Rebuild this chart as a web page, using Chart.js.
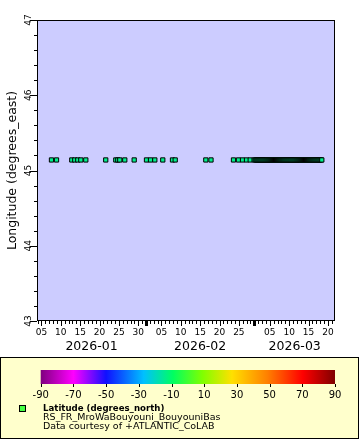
<!DOCTYPE html>
<html>
<head>
<meta charset="utf-8">
<script src="https://cdn.jsdelivr.net/npm/chart.js@4.4.1/dist/chart.umd.min.js"></script>
<style>
  html, body { margin: 0; padding: 0; background: #fff; }
  canvas { display: block; }
</style>
</head>
<body>
<canvas id="chart" width="360" height="440"></canvas>
<script>
// Longitude vs time for one station, markers coloured by latitude

// time of each observation, as day of 2026 (Jan 1 00:00 = 1)
const obsDays = [
  7.58, 8.88,
  12.83, 13.6, 14.38, 15.16, 16.45,
  21.6,
  24.2, 24.72, 25.23, 26.52,
  28.95,
  32.13, 33.17, 34.28,
  36.34,
  38.85, 39.55,
  47.46, 48.8,
  54.61, 55.9, 56.94, 57.97, 58.93, 59.96,
  60.25, 60.5, 60.75, 61, 61.25, 61.5, 61.75, 62, 62.25, 62.5, 62.75, 63,
  63.25, 63.5, 63.75, 64, 64.25, 64.5, 64.75, 65, 65.25, 65.5, 65.75, 66,
  66.25, 66.5, 66.75, 67, 67.25, 67.5, 67.75, 68, 68.25, 68.5, 68.75, 69,
  69.25, 69.5, 69.75, 70, 70.25, 70.5, 70.75, 71, 71.25, 71.5, 71.75, 72,
  72.25, 72.5, 72.75, 73, 73.25, 73.5, 73.75, 74, 74.25, 74.5, 74.75, 75,
  75.25, 75.5, 75.75, 76, 76.25, 76.5, 76.75, 77, 77.25, 77.43
];
const stationLon = 45.14;

const lonTicks    = [43, 44, 45, 46, 47];
const dayTicks    = ['05', '10', '15', '20', '25', '30'];
const monthLabels = ['2026-01', '2026-02', '2026-03'];
const monthStart  = [1, 32, 60, 91];
const colorTicks  = [-90, -70, -50, -30, -10, 10, 30, 50, 70, 90];

const legendTitle = 'Latitude (degrees_north)';
const legendLines = ['RS_FR_MroWaBouyouni_BouyouniBas', 'Data courtesy of +ATLANTIC_CoLAB'];

const FONT = '"DejaVu Sans", sans-serif';

const palette = [
  [0.000, '#7f007f'], [0.111, '#ff00ff'], [0.222, '#1010ff'], [0.350, '#00c0ff'],
  [0.450, '#00ff60'], [0.550, '#80ff00'], [0.650, '#ffe000'], [0.770, '#ff8000'],
  [0.890, '#ff0000'], [1.000, '#800000'],
];

const axesPlugin = {
  id: 'axesPlugin',
  beforeDatasetsDraw(chart) {
    const { ctx, chartArea: a } = chart;
    ctx.save();
    ctx.fillStyle = '#ccccff';
    ctx.fillRect(a.left, a.top, a.right - a.left, a.bottom - a.top);
    ctx.restore();
  },
  afterDatasetsDraw(chart) {
    const { ctx, chartArea: a, scales: { x, y } } = chart;
    ctx.save();
    ctx.strokeStyle = '#000';
    ctx.fillStyle = '#000';
    ctx.lineWidth = 1;

    // frame
    ctx.strokeRect(a.left + 0.5, a.top + 0.5, a.right - a.left - 1, a.bottom - a.top - 1);

    // y ticks, every 0.2
    for (let i = 0; i <= 20; i++) {
      const v = lonTicks[0] + i * 0.2;
      const py = Math.round(y.getPixelForValue(v)) + 0.5;
      ctx.beginPath();
      ctx.moveTo(a.left - (i % 5 === 0 ? 7 : 3), py);
      ctx.lineTo(a.left, py);
      ctx.stroke();
    }
    ctx.font = '9px ' + FONT;
    ctx.textAlign = 'center';
    ctx.textBaseline = 'alphabetic';
    lonTicks.forEach(v => {
      ctx.save();
      ctx.translate(a.left - 6.5, y.getPixelForValue(v));
      ctx.rotate(-Math.PI / 2);
      ctx.fillText(String(v), 0, 0);
      ctx.restore();
    });

    // y title
    ctx.save();
    ctx.font = '12.5px ' + FONT;
    ctx.textBaseline = 'middle';
    ctx.translate(13, (a.top + a.bottom) / 2);
    ctx.rotate(-Math.PI / 2);
    ctx.fillText('Longitude (degrees_east)', 0, 0);
    ctx.restore();

    // x ticks, every day
    ctx.font = '9px ' + FONT;
    ctx.textBaseline = 'middle';
    for (let d = Math.ceil(x.min); d <= Math.floor(x.max); d++) {
      let m = 0;
      while (d >= monthStart[m + 1]) m++;
      const dom = d - monthStart[m] + 1;
      const px = x.getPixelForValue(d);
      const lbl = dayTicks.find(t => Number(t) === dom);
      if (dom === 1) {
        ctx.fillRect(Math.round(px) - 1, a.bottom, 3, 5);
      } else {
        const len = lbl ? 5 : 3;
        ctx.beginPath();
        ctx.moveTo(Math.round(px) + 0.5, a.bottom);
        ctx.lineTo(Math.round(px) + 0.5, a.bottom + len);
        ctx.stroke();
      }
      if (lbl) ctx.fillText(lbl, px, a.bottom + 12);
    }

    // month labels, centred on the visible part of each month
    ctx.font = '12.5px ' + FONT;
    monthLabels.forEach((lbl, m) => {
      const s = Math.max(monthStart[m], x.min);
      const e = Math.min(monthStart[m + 1], x.max);
      ctx.fillText(lbl, x.getPixelForValue((s + e) / 2), a.bottom + 26);
    });

    // legend box
    ctx.fillStyle = '#ffffcc';
    ctx.fillRect(0, 357, 359, 82);
    ctx.strokeRect(0.5, 357.5, 358, 81);

    // colour bar
    const cbL = 40.7, cbR = 335, cbT = 370, cbB = 384;
    const grad = ctx.createLinearGradient(cbL, 0, cbR, 0);
    palette.forEach(([t, c]) => grad.addColorStop(t, c));
    ctx.fillStyle = grad;
    ctx.fillRect(cbL, cbT, cbR - cbL, cbB - cbT);
    ctx.fillStyle = '#000';
    ctx.font = '10px ' + FONT;
    colorTicks.forEach(v => {
      const px = cbL + (v - colorTicks[0]) / (colorTicks[colorTicks.length - 1] - colorTicks[0]) * (cbR - cbL);
      ctx.beginPath();
      ctx.moveTo(Math.round(px) + 0.5, cbB);
      ctx.lineTo(Math.round(px) + 0.5, cbB + 3);
      ctx.stroke();
      ctx.fillText(String(v), px, 395);
    });

    // legend marker and text
    ctx.fillStyle = '#44ff44';
    ctx.fillRect(20, 406, 5, 5);
    ctx.strokeRect(19.5, 405.5, 6, 6);
    ctx.fillStyle = '#000';
    ctx.textAlign = 'left';
    ctx.font = 'bold 8.6px ' + FONT;
    ctx.fillText(legendTitle, 43, 408.5);
    ctx.font = '9.5px ' + FONT;
    ctx.fillText(legendLines[0], 43, 418);
    ctx.fillText(legendLines[1], 43, 427);

    ctx.restore();
  }
};

new Chart(document.getElementById('chart'), {
  type: 'scatter',
  data: {
    datasets: [{
      label: legendTitle,
      data: obsDays.map(d => ({ x: d, y: stationLon })),
      pointStyle: 'rect',
      radius: 3,
      backgroundColor: '#00f08c',
      borderColor: '#000',
      borderWidth: 1,
    }]
  },
  options: {
    responsive: false,
    animation: false,
    layout: { padding: { left: 37, right: 25, top: 20, bottom: 119 } },
    plugins: { legend: { display: false }, tooltip: { enabled: false } },
    scales: {
      x: { type: 'linear', min: 3.84, max: 80.84, display: false },
      y: { type: 'linear', min: 43, max: 47, display: false },
    }
  },
  plugins: [axesPlugin]
});
</script>
</body>
</html>
